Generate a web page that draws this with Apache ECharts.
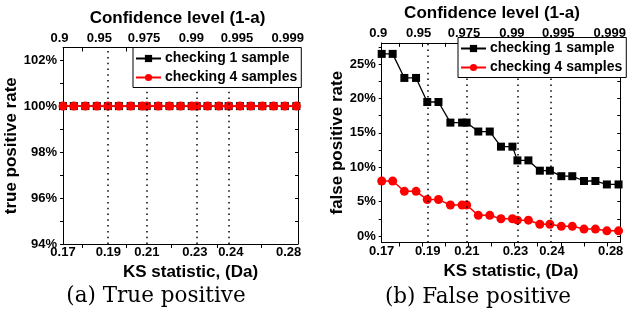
<!DOCTYPE html>
<html><head><meta charset="utf-8">
<script src="https://cdn.jsdelivr.net/npm/echarts@6/dist/echarts.min.js"></script>
<style>html,body{margin:0;padding:0;background:#fff}#c{width:629px;height:316px}</style>
</head><body><div id="c"></div>
<script>
// x positions of the measurement points, in percent of the axis span
const xPos = [0, 4.6, 9.5, 14.4, 19.1, 23.8, 28.8, 33.7, 35.6, 40.5, 45.3, 50.0, 54.8, 56.9, 61.5, 66.3, 70.5, 75.3, 79.9, 84.8, 89.6, 94.4, 99.3];
// (a) true positive rate (%)
const tpOne  = [100,100,100,100,100,100,100,100,100,100,100,100,100,100,100,100,100,100,100,100,100,100,100];
const tpFour = [100,100,100,100,100,100,100,100,100,100,100,100,100,100,100,100,100,100,100,100,100,100,100];
// (b) false positive rate (%)
const fpOne  = [26.5,26.5,23,23,19.5,19.5,16.5,16.5,16.5,15.2,15.2,13,13,11,11,9.5,9.5,8.7,8.7,8,8,7.5,7.5];
const fpFour = [8,8,6.5,6.5,5.3,5.3,4.5,4.5,4.5,3,3,2.5,2.5,2.3,2.3,1.7,1.7,1.4,1.4,1,1,0.75,0.75];

const ksLabels = ['0.17','0.19','0.21','0.23','0.24','0.28'];
const ksLabelPos = [0, 19.3, 35.7, 56.1, 71.4, 96];
const confLabels = ['0.9','0.95','0.975','0.99','0.995','0.999'];
const confLabelPos = [0, 15.5, 34.5, 54.6, 74, 95.6];
const thresholdPos = [19.1, 35.5, 56.9, 70.7];
const xTicksA = [8, 27, 46, 65.5, 84.5];
const xTicksB = [7.2, 17, 26.6, 36.3, 46, 55.7, 65.4, 75.1, 84.8, 94.5];
const tpTicks = [94,95,96,97,98,99,100,101,102];
const tpLabels = [94,96,98,100,102];
const fpTicks = [0,2.5,5,7.5,10,12.5,15,17.5,20,22.5,25,27.5];
const fpLabels = [0,5,10,15,20,25];
const names = ['checking 1 sample','checking 4 samples'];

const FF = 'Liberation Sans, Arial, sans-serif';
const lblStyle = {fontFamily: FF, fontWeight: 'bold', fontSize: 13, color: '#000'};
const lineC = {show: true, onZero: false, lineStyle: {color: '#000', width: 1}};

function xBottom(grid, ticks) {
  return {
    type: 'value', gridIndex: grid, position: 'bottom', min: 0, max: 100,
    axisLine: lineC, splitLine: {show: false},
    axisTick: {show: true, inside: false, length: 4, customValues: ticks, lineStyle: {color: '#000'}},
    axisLabel: Object.assign({show: true, margin: 2, customValues: ksLabelPos,
      formatter: v => ksLabels[ksLabelPos.indexOf(v)]}, lblStyle),
    name: 'KS statistic, (Da)', nameLocation: 'middle', nameGap: 19,
    nameTextStyle: {fontFamily: FF, fontWeight: 'bold', fontSize: 17, color: '#000', padding: [0, 0, 0, 20]}
  };
}
function xTop(grid, ticks, shift) {
  return {
    type: 'value', gridIndex: grid, position: 'top', min: 0, max: 100,
    axisLine: lineC, splitLine: {show: false},
    axisTick: {show: true, inside: true, length: 4, customValues: ticks, lineStyle: {color: '#000'}},
    axisLabel: Object.assign({show: true, margin: 3, customValues: confLabelPos,
      formatter: v => { const i = confLabelPos.indexOf(v); return i === 0 ? '{l|' + confLabels[i] + '}' : confLabels[i]; },
      rich: {l: {fontFamily: FF, fontWeight: 'bold', fontSize: 13, color: '#000', padding: [0, 7, 0, 0]}}}, lblStyle),
    name: 'Confidence level (1-a)', nameLocation: 'middle', nameGap: 17,
    nameTextStyle: {fontFamily: FF, fontWeight: 'bold', fontSize: 17, color: '#000', padding: [0, shift, 0, 0]}
  };
}
function yLeft(grid, mn, mx, ticks, labels, name, gap) {
  return {
    type: 'value', gridIndex: grid, position: 'left', min: mn, max: mx,
    axisLine: lineC, splitLine: {show: false},
    axisTick: {show: true, inside: false, length: 3, customValues: ticks, lineStyle: {color: '#000'}},
    axisLabel: Object.assign({show: true, margin: 6, customValues: labels, formatter: v => v + '%'}, lblStyle),
    name: name, nameLocation: 'middle', nameGap: gap,
    nameTextStyle: {fontFamily: FF, fontWeight: 'bold', fontSize: 17, color: '#000'}
  };
}
function yRight(grid, mn, mx, ticks) {
  return {
    type: 'value', gridIndex: grid, position: 'right', min: mn, max: mx,
    axisLine: lineC, splitLine: {show: false},
    axisTick: {show: true, inside: true, length: 3, customValues: ticks, lineStyle: {color: '#000'}},
    axisLabel: {show: false}
  };
}
const pairs = vals => vals.map((v, i) => [xPos[i], v]);
const mark = {
  silent: true, symbol: ['none', 'none'], label: {show: false}, animation: false,
  lineStyle: {type: [1.5, 4.3], color: '#000', width: 1.5},
  emphasis: {disabled: true},
  data: thresholdPos.map(v => ({xAxis: v}))
};
function blackSeries(xi, yi, vals) {
  return {name: names[0], type: 'line', xAxisIndex: xi, yAxisIndex: yi, data: pairs(vals),
    symbol: 'rect', symbolSize: 8, clip: false, itemStyle: {color: '#000'},
    lineStyle: {color: '#000', width: 1.3}, markLine: mark, animation: false, z: 3};
}
function redSeries(xi, yi, vals) {
  return {name: names[1], type: 'line', xAxisIndex: xi, yAxisIndex: yi, data: pairs(vals),
    symbol: 'circle', symbolSize: 9, clip: false, itemStyle: {color: '#ff0000'},
    lineStyle: {color: '#ff0000', width: 1.5}, animation: false, z: 4};
}
const legendBase = {
  orient: 'vertical', data: names, backgroundColor: '#fff', borderColor: '#000', borderWidth: 1,
  padding: [4, 4, 3, 2], itemGap: 5, itemWidth: 25, itemHeight: 9, selectedMode: false,
  textStyle: {fontFamily: FF, fontWeight: 'bold', fontSize: 14, color: '#000', padding: [0, 0, 0, -1]},
  z: 10
};

const chart = echarts.init(document.getElementById('c'), null, {renderer: 'canvas'});
chart.setOption({
  animation: false,
  backgroundColor: '#fff',
  grid: [
    {left: 63, top: 47.5, width: 235, height: 196.5},
    {left: 381.7, top: 37.5, width: 243.5, height: 205}
  ],
  xAxis: [xBottom(0, xTicksA), xTop(0, xTicksA, 6), xBottom(1, xTicksB), xTop(1, xTicksB, 18)],
  yAxis: [
    yLeft(0, 94, 102.55, tpTicks, tpLabels, 'true positive rate', 40),
    yRight(0, 94, 102.55, tpTicks),
    yLeft(1, -0.95, 28.1, fpTicks, fpLabels, 'false positive rate', 36),
    yRight(1, -0.95, 28.1, fpTicks)
  ],
  legend: [
    Object.assign({left: 133, top: 47.5}, legendBase),
    Object.assign({left: 458, top: 37.5}, legendBase)
  ],
  series: [
    blackSeries(0, 0, tpOne), redSeries(0, 0, tpFour),
    blackSeries(2, 2, fpOne), redSeries(2, 2, fpFour)
  ],
  graphic: [
    {type: 'text', x: 156, y: 296, style: {text: '(a) True positive', align: 'center', verticalAlign: 'middle',
      fontFamily: 'DejaVu Serif', fontSize: 21.5, fill: '#000'}},
    {type: 'text', x: 478, y: 297, style: {text: '(b) False positive', align: 'center', verticalAlign: 'middle',
      fontFamily: 'DejaVu Serif', fontSize: 21.5, fill: '#000'}}
  ]
});
</script>
</body></html>
